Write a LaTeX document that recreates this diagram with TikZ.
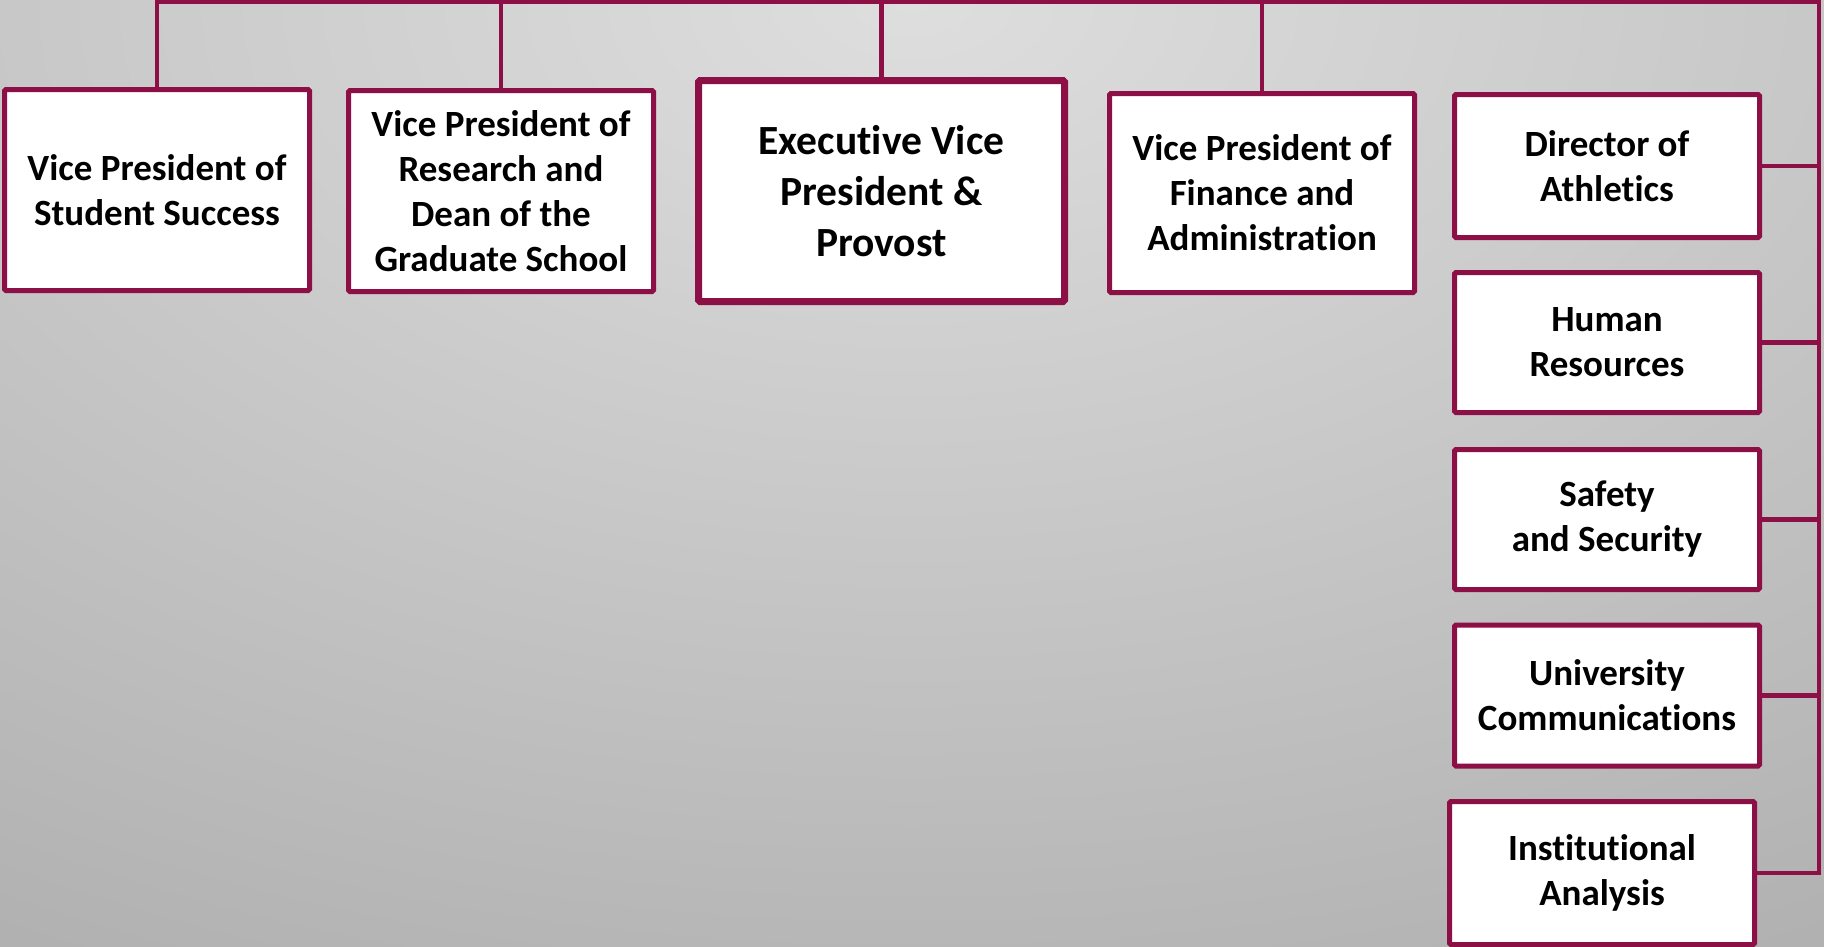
\documentclass[tikz,border=0pt]{standalone}
\usepackage{fontspec}
\setmainfont{Carlito}[Ligatures={NoCommon}]
\definecolor{maroon}{RGB}{140,15,70}
\definecolor{bgA}{RGB}{222,222,222}
\definecolor{bgD}{RGB}{130,130,130}
\pgfdeclareradialshading{bgrad}{\pgfpoint{0bp}{0bp}}{color(0bp)=(bgA); color(50bp)=(bgD)}
\tikzset{
  box/.style={draw=maroon, fill=white, line width=5pt, rounded corners=1.5pt,
    inner sep=0pt, align=center, font=\bfseries\fontsize{37}{45}\selectfont},
  bigbox/.style={box, line width=7pt, font=\bfseries\fontsize{41.5}{51}\selectfont},
  conn/.style={draw=maroon, line width=4.5pt},
}
\begin{document}
\begin{tikzpicture}[x=1pt,y=-1pt]
\useasboundingbox (0,0) rectangle (1824,946);
\begin{scope}
  \clip (0,0) rectangle (1824,946);
  \shade[shading=bgrad] (912,0) ellipse [x radius=1870, y radius=1100];
\end{scope}
% coordinates for the bus
\coordinate (tl) at (157,2);
\coordinate (tr) at (1819,2);
\coordinate (br) at (1819,873);
% boxes
\node[box, minimum width=305pt, minimum height=201pt] (b1) at (157,190) {Vice President of\\Student Success};
\node[box, minimum width=305pt, minimum height=201pt] (b2) at (501,191) {Vice President of\\Research and\\Dean of the\\Graduate School};
\node[bigbox, minimum width=366pt, minimum height=221pt] (b3) at (881.5,191) {Executive Vice\\President \&\\Provost};
\node[box, minimum width=305pt, minimum height=199pt] (b4) at (1262,193) {Vice President of\\Finance and\\Administration};
\node[box, minimum width=305pt, minimum height=143pt] (ath) at (1607,166) {Director of\\Athletics};
\node[box, minimum width=305pt, minimum height=140pt] (hr) at (1607,342.5) {Human\\Resources};
\node[box, minimum width=305pt, minimum height=140pt] (saf) at (1607,519.5) {Safety\\and Security};
\node[box, minimum width=305pt, minimum height=141pt] (uc) at (1607,695.5) {University\\Communications};
\node[box, minimum width=305pt, minimum height=143pt] (ia) at (1602,873) {Institutional\\Analysis};
% connectors
\draw[conn] (b1.north) -- (tl) -- (tr) -- (br) -- (ia.east);
\draw[conn] (b2.north) -- (b2.north |- tl);
\draw[conn] (b3.north) -- (b3.north |- tl);
\draw[conn] (b4.north) -- (b4.north |- tl);
\draw[conn] (ath.east) -- (ath.east -| tr);
\draw[conn] (hr.east) -- (hr.east -| tr);
\draw[conn] (saf.east) -- (saf.east -| tr);
\draw[conn] (uc.east) -- (uc.east -| tr);
\end{tikzpicture}
\end{document}
